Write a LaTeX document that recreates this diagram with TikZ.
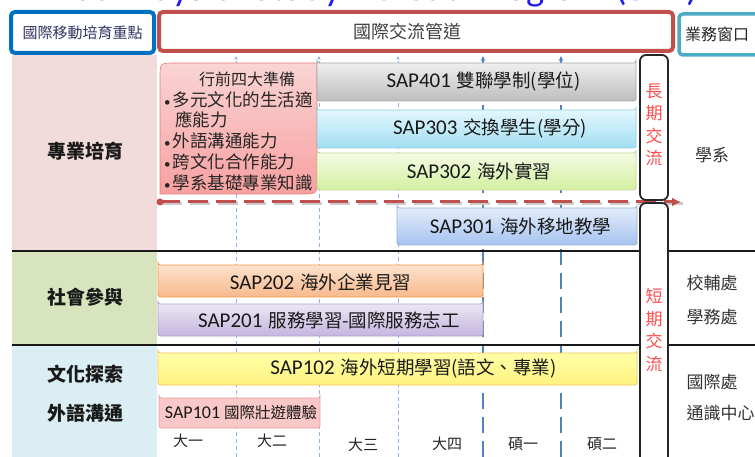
\documentclass[tikz,border=0pt]{standalone}
\usepackage{fontspec}
\setmainfont{Noto Sans CJK TC}
\newfontfamily\lat{Carlito}
\usetikzlibrary{shapes.misc,arrows.meta}
\definecolor{hblue}{HTML}{0070C0}
\definecolor{hred}{HTML}{C0504D}
\definecolor{hteal}{HTML}{4BACC6}
\definecolor{bpink}{HTML}{F2DCDB}
\definecolor{bgreen}{HTML}{D7E4BD}
\definecolor{bblue}{HTML}{DBEEF4}
\definecolor{gthin}{HTML}{8EB4E3}
\definecolor{gthick}{HTML}{4F81BD}
\definecolor{ttl}{HTML}{1F1FF0}
\definecolor{vred}{HTML}{FF4D4D}
\definecolor{prepT}{HTML}{FAD4D4}
\definecolor{prepB}{HTML}{F8A0A0}
\definecolor{prepD}{HTML}{E07C7C}
\definecolor{gT}{HTML}{EFEFEF}\definecolor{gB}{HTML}{BDBDBD}\definecolor{gD}{HTML}{A6A6A6}
\definecolor{cT}{HTML}{E2F7FD}\definecolor{cB}{HTML}{A2DEF2}\definecolor{cD}{HTML}{93CDDD}
\definecolor{lT}{HTML}{F4FBE3}\definecolor{lB}{HTML}{D3EFA0}\definecolor{lD}{HTML}{C3D69B}
\definecolor{uT}{HTML}{E3ECFA}\definecolor{uB}{HTML}{A6C3F0}\definecolor{uD}{HTML}{95B3D7}
\definecolor{oT}{HTML}{FDE2CC}\definecolor{oB}{HTML}{F8B98C}\definecolor{oD}{HTML}{F79646}
\definecolor{pT}{HTML}{ECE6F3}\definecolor{pB}{HTML}{C4B5DE}\definecolor{pD}{HTML}{B2A1C7}
\definecolor{yT}{HTML}{FFFFA6}\definecolor{yB}{HTML}{FFF27F}\definecolor{yD}{HTML}{F2C35C}
\definecolor{kF}{HTML}{FAC8C8}\definecolor{kD}{HTML}{E6A0A0}
\newcommand{\sapbig}[2]{{\lat\fontsize{21}{24}\selectfont #1}\hspace{6pt}{\fontsize{18.5}{22}\selectfont #2}}
\newcommand{\sapsm}[2]{{\lat\fontsize{18}{20}\selectfont #1}\hspace{4pt}{\fontsize{15.5}{18}\selectfont #2}}
\newcommand{\bul}{{\lat\fontsize{13}{13}\selectfont •}\hspace{2pt}}
\begin{document}
\begin{tikzpicture}[x=1pt,y=-1pt,
  hdr/.style={rectangle, rounded corners=4pt, fill=white, inner sep=0pt},
  bandlbl/.style={font=\bfseries\fontsize{19}{22}\selectfont, text=black!90},
  deptlbl/.style={font=\fontsize{17}{20}\selectfont, text=black!80},
  yearlbl/.style={font=\fontsize{15}{18}\selectfont, text=black!85},
  sapbox/.style={chamfered rectangle, chamfered rectangle corners=north east,
    chamfered rectangle xsep=6pt, chamfered rectangle ysep=6pt,
    rounded corners=2.5pt, inner sep=0pt, line width=0.8pt},
  saptxt/.style={text=black!90, inner sep=0pt},
  gridthin/.style={draw=gthin, line width=0.8pt, dash pattern=on 4pt off 3pt, -{Stealth[length=4pt,width=3.5pt]}},
  gridthick/.style={draw=gthick, line width=2pt, dash pattern=on 16pt off 8pt, -{Stealth[length=5pt,width=4.5pt]}},
  rowline/.style={draw=black!90, line width=1.5pt},
  termbox/.style={rectangle, draw=black!85, line width=1.8pt, rounded corners=6pt, fill=white, inner sep=0pt},
  vtext/.style={text=vred, align=center, font=\fontsize{17}{22.5}\selectfont, inner sep=0pt},
  reddash/.style={draw=hred, line width=3pt, dash pattern=on 20pt off 8pt}]
\useasboundingbox (0,0) rectangle (755,457);

% cropped title
\node[anchor=base, font=\lat\fontsize{38.5}{40}\selectfont, text=ttl, inner sep=0pt] (title) at (378,1) {Pathways of Study Abroad Program (SAP)};

% left bands
\fill[bpink] (12,55) rectangle (157,251);
\fill[bgreen] (12,251) rectangle (157,345);
\fill[bblue] (12,345) rectangle (157,457);

% header boxes
\node[hdr, draw=hblue, line width=4pt, minimum width=143pt, minimum height=41pt, text=black!70!blue!60!gray,
  font=\fontsize{15}{18}\selectfont] (hfocus) at (82.5,32.5) {國際移動培育重點};
\node[hdr, draw=hred, line width=4pt, minimum width=514pt, minimum height=39pt] (hchan) at (416,31.5) {};
\node[text=black!75, font=\fontsize{18}{21}\selectfont, inner sep=0pt] (hchantxt) at (407,32) {國際交流管道};
\node[hdr, draw=hteal, line width=3.5pt, minimum width=81pt, minimum height=41pt] (hdesk) at (719.5,34.5) {};
\node[text=black!85, font=\fontsize{16}{19}\selectfont, inner sep=0pt] (hdesktxt) at (717,34) {業務窗口};

% grid lines
\foreach \x/\n in {236/a,319/b,398/c}{
  \coordinate (gb\n) at (\x,457); \coordinate (gt\n) at (\x,56);
  \draw[gridthin] (gb\n) -- (gt\n);}
\foreach \x/\n in {483/d,561/e}{
  \coordinate (gb\n) at (\x,457); \coordinate (gt\n) at (\x,56);
  \draw[gridthick] (gb\n) -- (gt\n);}

% row separators
\coordinate (r1a) at (12,251); \coordinate (r1b) at (640,251);
\coordinate (r1c) at (668,251); \coordinate (r1d) at (755,251);
\coordinate (r2a) at (12,345); \coordinate (r2b) at (640,345);
\coordinate (r2c) at (668,345); \coordinate (r2d) at (755,345);
\draw[rowline] (r1a) -- (r1b); \draw[rowline] (r1c) -- (r1d);
\draw[rowline] (r2a) -- (r2b); \draw[rowline] (r2c) -- (r2d);

% long/short divider arrow
\coordinate (ds) at (160,202); \coordinate (de) at (681,202);
\draw[gray!40, line width=3pt, dash pattern=on 20pt off 8pt] ([shift={(1.5,2)}]ds) -- ([shift={(1.5,2)}]de);
\draw[reddash, -{Latex[length=9pt,width=9pt]}] (ds) -- (de);
\fill[hred] (ds) circle (3.5pt);

% long / short exchange boxes
\node[termbox, minimum width=28pt, minimum height=145pt] (lbox) at (654,127.5) {};
\node[termbox, minimum width=28pt, minimum height=267pt] (sbox) at (654,336.5) {};
\node[vtext] (ltxt) at (654,125) {長\\期\\交\\流};
\node[vtext] (stxt) at (654,330) {短\\期\\交\\流};

% preparation box
\shade[top color=prepT, bottom color=prepB, draw=prepD, line width=0.6pt]
  (160,194) -- (160,78) .. controls (160,63) .. (175,63) -- (317,63) -- (317,179)
  .. controls (317,194) .. (302,194) -- cycle;
\node[text=black!85, font=\fontsize{16}{18}\selectfont, inner sep=0pt] (preptitle) at (247,79) {行前四大準備};
\node[anchor=north west, align=left, text=black!85, font=\fontsize{17.5}{20.8}\selectfont, inner sep=0pt] (preplist) at (164,91)
  {\bul 多元文化的生活適\\\hspace*{11pt}應能力\\\bul 外語溝通能力\\\bul 跨文化合作能力\\\bul 學系基礎專業知識};

% SAP boxes
\node[sapbox, top color=gT, bottom color=gB, draw=gD, minimum width=319pt, minimum height=38pt] (b401) at (476.5,82) {};
\node[sapbox, top color=cT, bottom color=cB, draw=cD, minimum width=319pt, minimum height=38pt] (b303) at (476.5,129) {};
\node[sapbox, top color=lT, bottom color=lB, draw=lD, minimum width=319pt, minimum height=37pt] (b302) at (476.5,171.5) {};
\node[sapbox, top color=uT, bottom color=uB, draw=uD, minimum width=240pt, minimum height=37pt] (b301) at (517,226.5) {};
\node[sapbox, top color=oT, bottom color=oB, draw=oD, minimum width=325pt, minimum height=32pt] (b202) at (320.5,281) {};
\node[sapbox, top color=pT, bottom color=pB, draw=pD, minimum width=325pt, minimum height=32pt] (b201) at (320.5,320) {};
\node[sapbox, top color=yT, bottom color=yB, draw=yD, minimum width=479pt, minimum height=32pt] (b102) at (397.5,369) {};
\node[sapbox, fill=kF, draw=kD, minimum width=161pt, minimum height=30pt] (b101) at (239.5,413) {};

\node[saptxt] (t401) at (483.5,81) {\sapbig{SAP401}{雙聯學制(學位)}};
\node[saptxt] (t303) at (490,128) {\sapbig{SAP303}{交換學生(學分)}};
\node[saptxt] (t302) at (479,171) {\sapbig{SAP302}{海外實習}};
\node[saptxt] (t301) at (520.5,226) {\sapbig{SAP301}{海外移地教學}};
\node[saptxt] (t202) at (320.5,282) {\sapbig{SAP202}{海外企業見習}};
\node[saptxt] (t201) at (329,320) {\sapbig{SAP201}{服務學習-國際服務志工}};
\node[saptxt] (t102) at (413.5,368) {\sapbig{SAP102}{海外短期學習(語文、專業)}};
\node[saptxt] (t101) at (241,413) {\sapsm{SAP101}{國際壯遊體驗}};

% band labels
\node[bandlbl] (l1) at (85,151) {專業培育};
\node[bandlbl] (l2) at (85,297) {社會參與};
\node[bandlbl] (l3) at (85,374) {文化探索};
\node[bandlbl] (l4) at (85,413) {外語溝通};

% office labels
\node[deptlbl] (d1) at (712,155) {學系};
\node[deptlbl] (d2) at (712,283) {校輔處};
\node[deptlbl] (d3) at (712,317) {學務處};
\node[deptlbl, anchor=west] (d4) at (683,382) {國際處};
\node[deptlbl, anchor=west] (d5) at (683,413) {通識中心};

% year labels
\node[yearlbl] (y1) at (188,441) {大一};
\node[yearlbl] (y2) at (272,441) {大二};
\node[yearlbl] (y3) at (363,445) {大三};
\node[yearlbl] (y4) at (447,444) {大四};
\node[yearlbl] (y5) at (523,444) {碩一};
\node[yearlbl] (y6) at (602,444) {碩二};
\end{tikzpicture}
\end{document}
